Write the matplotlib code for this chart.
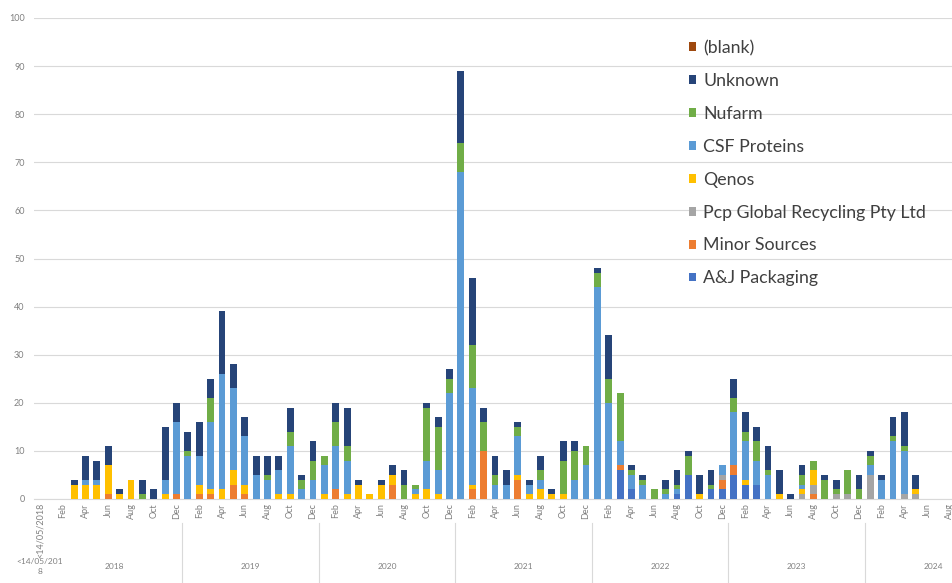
import numpy as np
import matplotlib
matplotlib.use("Agg")
import matplotlib.pyplot as plt
import matplotlib.transforms as mtransforms

plt.rcParams['font.family'] = ['Lato', 'DejaVu Sans']

months = ["Jan", "Feb", "Mar", "Apr", "May", "Jun",
          "Jul", "Aug", "Sep", "Oct", "Nov", "Dec"]
years = ["2018", "2019", "2020", "2021", "2022", "2023", "2024"]
first_cat = "<14/05/2018"

# monthly counts per source, one row per year (Jan..Dec), plus the "<14/05/2018" bucket
aj_packaging = [0] + [
    0, 0, 0, 0, 0, 0, 0, 0, 0, 0, 0, 0,
    0, 0, 0, 0, 0, 0, 0, 0, 0, 0, 0, 0,
    0, 0, 0, 0, 0, 0, 0, 0, 0, 0, 0, 0,
    0, 0, 0, 0, 0, 0, 0, 0, 0, 0, 0, 0,
    0, 0, 6, 2, 0, 0, 0, 1, 5, 0, 2, 2,
    5, 3, 3, 0, 0, 0, 0, 0, 0, 0, 0, 0,
    0, 0, 0, 0, 0, 0, 0, 0, 0, 0, 0, 0]
minor_sources = [0] + [
    0, 0, 0, 0, 0, 1, 0, 0, 0, 0, 0, 1,
    0, 1, 1, 0, 3, 1, 0, 0, 0, 0, 0, 0,
    0, 2, 0, 0, 0, 0, 3, 0, 0, 0, 0, 0,
    0, 2, 10, 0, 0, 4, 0, 0, 0, 0, 0, 0,
    0, 0, 1, 0, 0, 0, 0, 0, 0, 0, 0, 2,
    2, 0, 0, 0, 0, 0, 0, 1, 0, 0, 0, 0,
    0, 0, 0, 0, 0, 0, 0, 0, 0, 0, 0, 0]
pcp_global = [0] + [
    0, 0, 0, 0, 0, 0, 0, 0, 0, 0, 0, 0,
    0, 0, 0, 0, 0, 0, 0, 0, 0, 0, 0, 0,
    0, 0, 0, 0, 0, 0, 0, 0, 0, 0, 0, 0,
    0, 0, 0, 0, 0, 0, 0, 0, 0, 0, 0, 0,
    0, 0, 0, 0, 0, 0, 0, 0, 0, 0, 0, 1,
    0, 0, 0, 0, 0, 0, 1, 2, 0, 1, 1, 0,
    5, 0, 0, 1, 1, 0, 0, 0, 0, 0, 0, 0]
qenos = [0] + [
    0, 0, 3, 3, 3, 6, 1, 4, 0, 0, 1, 0,
    0, 2, 1, 2, 3, 2, 0, 0, 1, 1, 0, 0,
    1, 0, 1, 3, 1, 3, 2, 0, 1, 2, 1, 0,
    0, 1, 0, 0, 0, 1, 1, 2, 1, 1, 0, 0,
    0, 0, 0, 0, 0, 0, 0, 0, 0, 1, 0, 0,
    0, 1, 0, 0, 1, 0, 1, 3, 0, 0, 0, 0,
    0, 0, 0, 0, 1, 0, 0, 0, 0, 0, 0, 0]
csf_proteins = [0] + [
    0, 0, 0, 1, 1, 0, 0, 0, 0, 0, 3, 15,
    9, 6, 14, 24, 17, 10, 5, 4, 5, 10, 2, 4,
    6, 9, 7, 0, 0, 0, 0, 0, 1, 6, 5, 22,
    68, 20, 0, 3, 3, 8, 2, 2, 0, 0, 4, 7,
    44, 20, 5, 3, 3, 0, 1, 1, 0, 0, 0, 2,
    11, 8, 5, 5, 0, 0, 1, 0, 0, 0, 0, 0,
    2, 4, 12, 9, 0, 0, 0, 0, 0, 0, 0, 0]
nufarm = [0] + [
    0, 0, 0, 0, 0, 0, 0, 0, 1, 0, 0, 0,
    1, 0, 5, 0, 0, 0, 0, 1, 0, 3, 2, 4,
    2, 5, 3, 0, 0, 0, 0, 3, 1, 11, 9, 3,
    6, 9, 6, 2, 0, 2, 0, 2, 0, 7, 6, 4,
    3, 5, 10, 1, 1, 2, 1, 1, 4, 0, 1, 0,
    3, 2, 4, 1, 0, 0, 2, 2, 4, 1, 5, 2,
    2, 0, 1, 1, 0, 0, 0, 0, 0, 0, 0, 0]
unknown = [0] + [
    0, 0, 1, 5, 4, 4, 1, 0, 3, 2, 11, 4,
    4, 7, 4, 13, 5, 4, 4, 4, 3, 5, 1, 4,
    0, 4, 8, 1, 0, 1, 2, 3, 0, 1, 2, 2,
    15, 14, 3, 4, 3, 1, 1, 3, 1, 4, 2, 0,
    1, 9, 0, 1, 1, 0, 2, 3, 1, 4, 3, 0,
    4, 4, 3, 5, 5, 1, 2, 0, 1, 2, 0, 3,
    1, 1, 4, 7, 3, 0, 0, 0, 0, 0, 0, 0]
blank = [0] * len(unknown)

series = [
    ("A&J Packaging", aj_packaging, "#4472C4"),
    ("Minor Sources", minor_sources, "#ED7D31"),
    ("Pcp Global Recycling Pty Ltd", pcp_global, "#A5A5A5"),
    ("Qenos", qenos, "#FFC000"),
    ("CSF Proteins", csf_proteins, "#5B9BD5"),
    ("Nufarm", nufarm, "#70AD47"),
    ("Unknown", unknown, "#264478"),
    ("(blank)", blank, "#9E480E"),
]

cats = [first_cat] + months * len(years)
x = np.arange(len(cats))

fig = plt.figure(figsize=(9.52, 5.83), dpi=100)
ax = fig.add_axes([34.3 / 952, 84 / 583, (952 - 34.3) / 952, 481 / 583])

bottom = np.zeros(len(cats))
handles = []
for name, vals, col in series:
    vals = np.array(vals, dtype=float)
    b = ax.bar(x, vals, 0.6, bottom=bottom, color=col, label=name, zorder=3)
    handles.append(b)
    bottom += vals

ax.set_yticks(range(0, 101, 10))
ax.set_xticks(x[::2])
ax.set_xticklabels(cats[::2], rotation=90, fontsize=6.5, color="#808080")
ax.set_ylim(0, 100)
ax.set_xlim(-0.5, 80.18)

ax.yaxis.grid(True, color="#D9D9D9", linewidth=0.8, zorder=0)
for s in ["top", "right", "left"]:
    ax.spines[s].set_visible(False)
ax.spines["bottom"].set_color("#D9D9D9")
ax.tick_params(axis="y", length=0, pad=7, labelsize=6.5, labelcolor="#808080")
ax.tick_params(axis="x", length=0, pad=3)

# year level of the category axis
trans = mtransforms.blended_transform_factory(ax.transData, ax.transAxes)
ax.text(0, -0.141, "<14/05/201\n8", transform=trans, ha="center", va="center",
        fontsize=6, color="#808080", linespacing=1.5)
for k, yr in enumerate(years):
    start = 1 + 12 * k
    ax.text(start + 5.5, -0.141, yr, transform=trans, ha="center", va="center",
            fontsize=6, color="#808080")
    if k > 0:
        ax.plot([start - 0.5, start - 0.5], [-0.05, -0.18], transform=trans,
                color="#D9D9D9", linewidth=0.8, clip_on=False)

leg = ax.legend(handles[::-1], [s[0] for s in series][::-1],
                loc="upper left", bbox_to_anchor=(673 / 952, 1 - 24 / 583),
                bbox_transform=fig.transFigure, frameon=False,
                fontsize=12.8, labelspacing=0.95, handlelength=0.4,
                handleheight=0.4, handletextpad=0.4)
for t in leg.get_texts():
    t.set_color("#404040")

fig.savefig("out.png", dpi=100)
